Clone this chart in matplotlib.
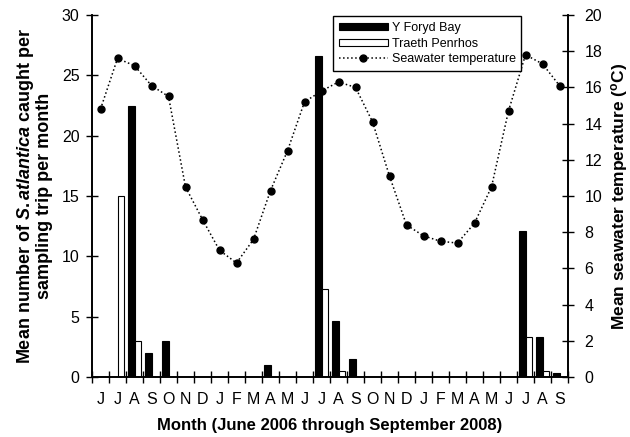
import numpy as np
import matplotlib
matplotlib.use('Agg')
import matplotlib.pyplot as plt

plt.rcParams['font.family'] = ['Liberation Sans', 'DejaVu Sans']
plt.rcParams['mathtext.fontset'] = 'custom'
plt.rcParams['mathtext.rm'] = 'Liberation Sans:bold'
plt.rcParams['mathtext.it'] = 'Liberation Sans:bold:italic'

# June 2006 .. September 2008
months = ['J', 'J', 'A', 'S', 'O', 'N', 'D', 'J', 'F', 'M', 'A', 'M',
          'J', 'J', 'A', 'S', 'O', 'N', 'D', 'J', 'F', 'M', 'A', 'M',
          'J', 'J', 'A', 'S']
foryd = [0, 0, 22.5, 2, 3, 0, 0, 0, 0, 0, 1, 0,
         0, 26.6, 4.6, 1.5, 0, 0, 0, 0, 0, 0, 0, 0,
         0, 12.1, 3.3, 0.3]
penrhos = [0, 15, 3, 0, 0, 0, 0, 0, 0, 0, 0, 0,
           0, 7.3, 0.5, 0, 0, 0, 0, 0, 0, 0, 0, 0,
           0, 3.3, 0.5, 0]
temp = [14.8, 17.6, 17.2, 16.1, 15.5, 10.5, 8.7, 7.0, 6.3, 7.6, 10.3, 12.5,
        15.2, 15.8, 16.3, 16.0, 14.1, 11.1, 8.4, 7.8, 7.5, 7.4, 8.5, 10.5,
        14.7, 17.8, 17.3, 16.1]

x = np.arange(len(months))

fig = plt.figure(figsize=(6.3, 4.37), dpi=100)
ax = fig.add_axes([92 / 630, 60 / 437, 476 / 630, 362 / 437])
ax2 = ax.twinx()

b1 = ax.bar(x - 0.17, foryd, width=0.38, color='black', edgecolor='black', linewidth=0.8,
            label='Y Foryd Bay')
b2 = ax.bar(x + 0.2, penrhos, width=0.32, color='white', edgecolor='black', linewidth=0.8,
            label='Traeth Penrhos')
l1, = ax2.plot(x, temp, linestyle=':', color='black', linewidth=1.1, marker='o',
               markersize=5, label='Seawater temperature')

ax.set_xlim(-0.5, len(months) - 0.5)
ax.set_ylim(0, 30)
ax2.set_ylim(0, 20)
ax.set_yticks(np.arange(0, 31, 5))
ax2.set_yticks(np.arange(0, 21, 2))

ax.set_xticks(np.arange(-0.5, len(months), 1.0))
ax.set_xticklabels([])
ax.set_xticks(x, minor=True)
ax.set_xticklabels(months, minor=True)
ax.tick_params(axis='x', which='major', direction='inout', length=8, width=1)
ax.tick_params(axis='x', which='minor', length=0, pad=11, labelsize=11.5)
ax.tick_params(axis='y', direction='inout', length=8, width=1, labelsize=11.5, pad=5)
ax2.tick_params(axis='y', direction='inout', length=8, width=1, labelsize=11.5, pad=8)

for a in (ax, ax2):
    a.spines['top'].set_visible(False)
    for s in ('left', 'right', 'bottom'):
        a.spines[s].set_linewidth(1.2)

ax.set_xlabel('Month (June 2006 through September 2008)', fontsize=12,
              fontweight='bold', labelpad=8)
ax.set_ylabel('Mean number of $S. atlantica$ caught per\nsampling trip per month',
              fontsize=13, fontweight='bold', labelpad=6, linespacing=1.05)
ax2.set_ylabel(r'Mean seawater temperature ($^{\rm o}$C)', fontsize=12.5,
               fontweight='bold', labelpad=5)

ax2.legend([b1, b2, l1], ['Y Foryd Bay', 'Traeth Penrhos', 'Seawater temperature'],
           loc='upper left', bbox_to_anchor=(0.494, 1.014), fancybox=False,
           edgecolor='black', framealpha=1, fontsize=9, handlelength=3.9,
           handleheight=0.5, borderpad=0.45, labelspacing=0.3, handletextpad=0.3,
           numpoints=1)
ax2.get_legend().get_frame().set_linewidth(1)

fig.savefig('out.png', dpi=100)
